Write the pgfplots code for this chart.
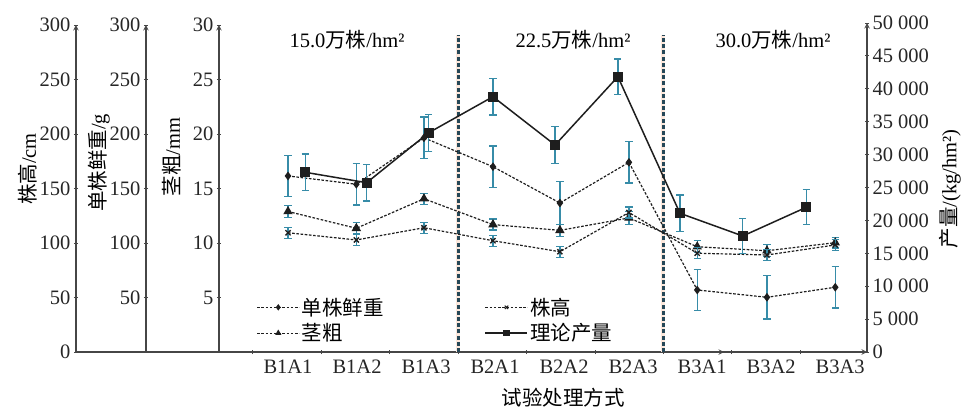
\documentclass[border=0pt]{standalone}
\usepackage{pgfplots}
\pgfplotsset{compat=1.18}
\usepackage{fontspec}
\setmainfont{Liberation Serif}
\newfontfamily\cjk{Noto Sans CJK SC}
\definecolor{errc}{RGB}{55,140,168}
\definecolor{halo}{RGB}{253,232,220}
\definecolor{divc}{RGB}{38,72,88}
\definecolor{linec}{RGB}{30,30,30}
\definecolor{axc}{RGB}{70,70,70}

\pgfplotstableread{
x y e
1    12.89 0.55
1.99 11.35 0.50
2.97 14.06 0.50
3.97 11.69 0.50
4.94 11.16 0.55
5.94 12.30 0.60
6.93 9.66  0.55
7.94 9.29  0.55
8.93 10.03 0.50
}\jingcu
\pgfplotstableread{
x y e
1    109.4 5
1.99 102.8 5
2.97 114.0 5
3.97 102.1 5
4.94 92.0  5
5.94 128.0 5
6.93 90.6  5
7.94 89.0  5
8.93 98.2  5
}\zhugao
\pgfplotstableread{
x y e
1    161.5 19
1.99 153.9 19
2.97 196.5 19
3.97 170.0 19
4.94 136.7 20
5.94 174.0 19
6.93 56.9  19
7.94 50.2  20
8.93 59.4  19
}\xianzhong
\pgfplotstableread{
x y e
1.25 27310 2770
2.14 25730 2780
3.04 33330 2810
3.97 38800 2780
4.87 31460 2780
5.78 41840 2700
6.68 21080 2780
7.59 17630 2700
8.51 21990 2660
}\chanliang

\newcommand{\fs}{\fontsize{20.5}{24}\selectfont}

\pgfplotsset{
  base/.style={
    scale only axis, width=648pt, height=327pt,
    xmin=0, xmax=9.39,
    tick align=inside, major tick length=4pt, minor tick length=4pt,
    tick style={line width=0.9pt, color=axc},
    axis line style={line width=1.4pt, color=axc},
    x axis line style={-}, y axis line style={-},
    tick label style={font=\fs, color=black!85},
    /pgf/number format/assume math mode=true,
    clip=false,
  },
  errs/.style={
    /pgfplots/error bars/y dir=both, /pgfplots/error bars/y explicit,
    /pgfplots/error bars/error bar style={line width=1.3pt, draw=errc, solid},
    /pgfplots/error bars/error mark options={rotate=90, mark size=3.6pt, line width=1.3pt, draw=errc, solid}},
  dashln/.style={linec, line width=1.2pt, dash pattern=on 2.6pt off 1.6pt},
}

\begin{document}
\begin{tikzpicture}
\path[use as bounding box] (-219pt,-58pt) rectangle (742pt,352pt);

% spine for plant height (shifted)
\begin{axis}[base, at={(-143pt,0pt)}, anchor=south west,
  axis x line=bottom, axis y line=left, xtick=\empty,
  ymin=0, ymax=300, ytick={0,50,...,300}]
\end{axis}
% spine for fresh weight (shifted)
\begin{axis}[base, at={(-73pt,0pt)}, anchor=south west,
  axis x line=none, axis y line=left,
  ymin=0, ymax=300, ytick={50,100,...,300}]
\end{axis}

% main axis: stem diameter
\begin{axis}[base, at={(0pt,0pt)}, anchor=south west,
  axis x line=bottom, axis y line=left,
  ymin=0, ymax=30, ytick={5,10,...,30},
  xtick={1,...,9},
  xticklabels={B1A1,B1A2,B1A3,B2A1,B2A2,B2A3,B3A1,B3A2,B3A3},
  major x tick style={draw=none},
  minor xtick={0.49,1.48,2.47,3.47,4.46,5.45,6.44,7.43,8.42},
  xticklabel style={yshift=-2pt}]
\addplot[forget plot, halo, line width=4pt] coordinates {(3.47,0) (3.47,29.1)};
\addplot[forget plot, halo, line width=4pt] coordinates {(6.44,0) (6.44,29.1)};
\addplot[forget plot, divc, line width=2.2pt, dash pattern=on 4pt off 2.2pt] coordinates {(3.47,0) (3.47,29.1)};
\addplot[forget plot, divc, line width=2.2pt, dash pattern=on 4pt off 2.2pt] coordinates {(6.44,0) (6.44,29.1)};
\addplot[dashln, mark=triangle*, mark size=4.3pt, mark options={solid, fill=linec}, errs]
  table[x=x,y=y,y error=e] {\jingcu};
\end{axis}

% plant height data
\begin{axis}[base, at={(0pt,0pt)}, anchor=south west, hide axis, ymin=0, ymax=300]
\addplot[dashln, mark=x, mark size=3.6pt, mark options={solid, line width=1.4pt}, errs]
  table[x=x,y=y,y error=e] {\zhugao};
\end{axis}

% fresh weight data
\begin{axis}[base, at={(0pt,0pt)}, anchor=south west, hide axis, ymin=0, ymax=300]
\addplot[dashln, mark=diamond*, mark size=3.4pt, mark options={solid, fill=linec}, errs]
  table[x=x,y=y,y error=e] {\xianzhong};
\end{axis}

% yield axis (right)
\begin{axis}[base, height=329pt, at={(0pt,0pt)}, anchor=south west,
  axis x line=none, axis y line=right,
  ymin=0, ymax=50000, ytick={0,5000,...,50000},
  scaled y ticks=false,
  yticklabel style={/pgf/number format/.cd, fixed, 1000 sep={\ }},
  legend columns=2, legend cell align=left,
  legend style={at={(0.058,0.171)}, anchor=north west, draw=none, fill=none,
    font=\fs, inner sep=0pt, row sep=3pt,
    /tikz/every even column/.append style={column sep=99pt}},
  legend image code/.code={
    \draw[mark repeat=2, mark phase=2, #1] plot coordinates {(0pt,0pt) (21pt,0pt) (42pt,0pt)};}]
\addplot[linec, line width=1.5pt, mark=square*, mark size=4.2pt, mark options={solid, fill=linec}, errs, forget plot]
  table[x=x,y=y,y error=e] {\chanliang};
\addlegendimage{dashln, line width=1pt, mark=diamond*, mark size=2.4pt, mark options={solid}}
\addlegendentry{\cjk 单株鲜重}
\addlegendimage{dashln, line width=1pt, mark=x, mark size=2.4pt, mark options={solid}}
\addlegendentry{\cjk 株高}
\addlegendimage{dashln, line width=1pt, mark=triangle*, mark size=2.6pt, mark options={solid}}
\addlegendentry{\cjk 茎粗}
\addlegendimage{linec, line width=1.4pt, mark=square*, mark size=2.6pt}
\addlegendentry{\cjk 理论产量}
\end{axis}

% axis titles and annotations
\node[rotate=90, font=\fs] at (-191pt,183pt) {{\cjk 株高}/cm};
\node[rotate=90, font=\fs] at (-120pt,189pt) {{\cjk 单株鲜重}/g};
\node[rotate=90, font=\fs] at (-47pt,195pt) {{\cjk 茎粗}/mm};
\node[rotate=90, font=\fs] at (731pt,163pt) {{\cjk 产量}/(kg/hm²)};
\node[font=\fs] at (344pt,-46pt) {\cjk 试验处理方式};
\node[font=\fs] at (128pt,312pt) {15.0{\cjk 万株}/hm²};
\node[font=\fs] at (354pt,312pt) {22.5{\cjk 万株}/hm²};
\node[font=\fs] at (554pt,312pt) {30.0{\cjk 万株}/hm²};
\end{tikzpicture}
\end{document}
